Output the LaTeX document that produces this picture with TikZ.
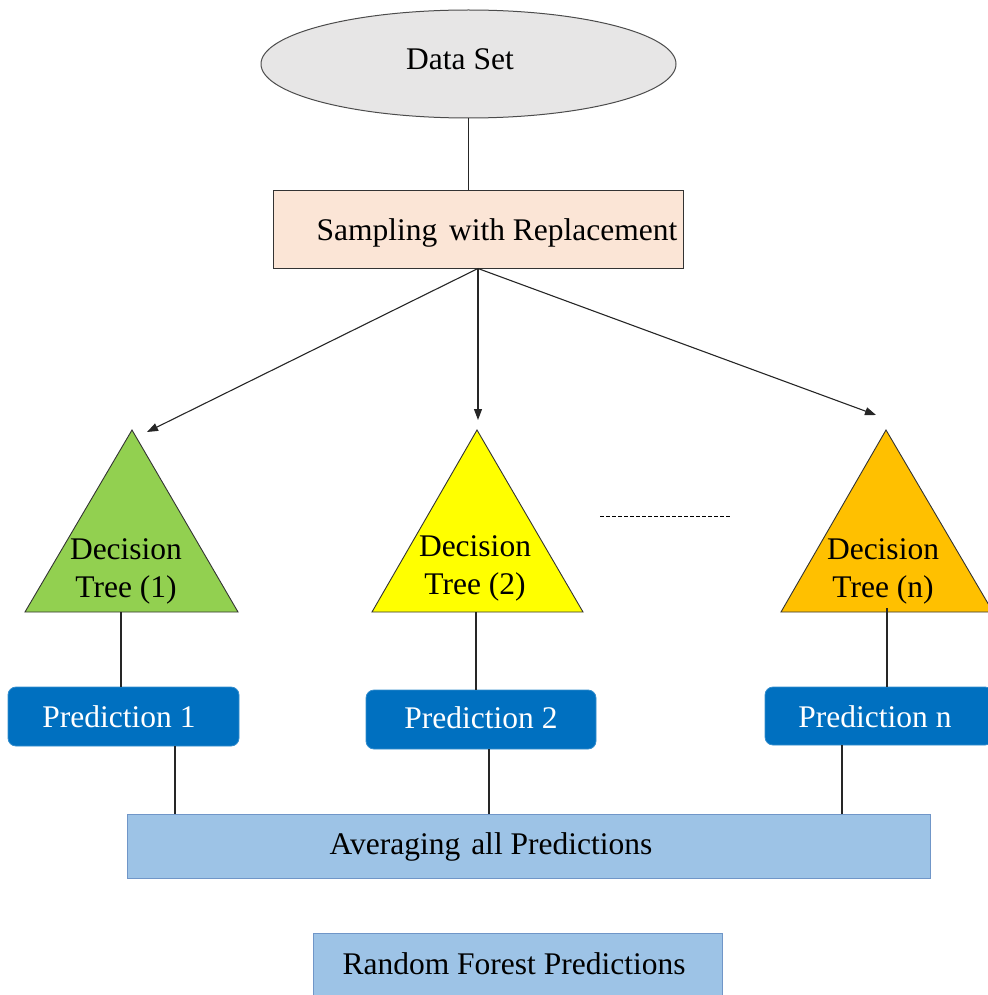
\documentclass[tikz,border=0pt]{standalone}
\usepackage{fontspec}
\setmainfont{Liberation Serif}
\usetikzlibrary{arrows.meta,shapes.geometric}
\definecolor{dsgray}{HTML}{E7E6E6}
\definecolor{peach}{HTML}{FBE5D6}
\definecolor{tgreen}{HTML}{92D050}
\definecolor{tyellow}{HTML}{FFFF00}
\definecolor{torange}{HTML}{FFC000}
\definecolor{pblue}{HTML}{0070C0}
\definecolor{lblue}{HTML}{9DC3E6}
\definecolor{lbluedraw}{HTML}{7096C8}
\begin{document}
\begin{tikzpicture}[x=1pt,y=-1pt,
  font=\fontsize{31.5}{38}\selectfont,
  conn/.style={line width=1.1pt, draw=black!85},
  arr/.style={conn, -{Triangle[length=11pt,width=8pt]}},
  tri/.style={draw=black!80, line width=0.9pt},
  pred/.style={draw=pblue!80!white, fill=pblue, rounded corners=8pt, line width=0.8pt, inner sep=0pt},
  predtext/.style={text=white},
  lbox/.style={draw=lbluedraw, fill=lblue, line width=1pt, inner sep=0pt}
]
\useasboundingbox (0,0) rectangle (987,995);

% Data set
\node[ellipse, draw=black!70, fill=dsgray, minimum width=415, minimum height=108, line width=1pt, inner sep=0pt] (ds) at (468.5,64) {};
\node (dsT) at (460,59) {Data Set};

% Sampling
\node[draw=black!80, fill=peach, line width=1pt, minimum width=410, minimum height=77] (samp) at (478,229.5) {};
\node (sampT) at (497,233) {Sampling\hspace{0.12em} with Replacement};
\draw[conn] (ds.south) -- (ds.south |- samp.north);

% Triangles
\draw[tri, fill=tgreen] (132,430) coordinate (t1apex) -- (238,612) -- (25,612) -- cycle;
\draw[tri, fill=tyellow] (477,430) coordinate (t2apex) -- (583,612) -- (372,612) -- cycle;
\draw[tri, fill=torange] (886,430) coordinate (t3apex) -- (993,612) -- (781,612) -- cycle;
\node[align=center] (t1T) at (126,571) {Decision\\Tree (1)};
\node[align=center] (t2T) at (475,568) {Decision\\Tree (2)};
\node[align=center] (t3T) at (883,571) {Decision\\Tree (n)};

% arrows
\coordinate (a1) at (147,432);
\coordinate (a2) at (478,420);
\coordinate (a3) at (876,415);
\draw[arr] (samp.south) -- (a1);
\draw[arr] (samp.south) -- (a2);
\draw[arr] (samp.south) -- (a3);

% dashed
\coordinate (d1) at (600,516);
\coordinate (d2) at (730,516);
\draw[line width=1pt, dash pattern=on 4pt off 2pt] (d1) -- (d2);

% predictions
\node[pred, minimum width=231, minimum height=59] (p1) at (123.5,716.5) {};
\node[pred, minimum width=230, minimum height=59] (p2) at (481,719.5) {};
\node[pred, minimum width=228, minimum height=58] (p3) at (879,716) {};
\node[predtext] (p1T) at (119,716.5) {Prediction 1};
\node[predtext] (p2T) at (481,718) {Prediction 2};
\node[predtext] (p3T) at (875,716.5) {Prediction n};

\coordinate (b1) at (121,612);
\coordinate (b2) at (476,612);
\coordinate (b3) at (887,608);
\draw[conn] (b1) -- (b1 |- p1.north);
\draw[conn] (b2) -- (b2 |- p2.north);
\draw[conn] (b3) -- (b3 |- p3.north);

% averaging
\node[lbox, minimum width=803, minimum height=64] (avg) at (528.5,846) {};
\node (avgT) at (491,847) {Averaging\hspace{0.1em} all Predictions};
\draw[conn] ([xshift=51.5pt]p1.south) -- ([xshift=51.5pt]p1.south |- avg.north);
\draw[conn] ([xshift=8pt]p2.south) -- ([xshift=8pt]p2.south |- avg.north);
\draw[conn] ([xshift=-37pt]p3.south) -- ([xshift=-37pt]p3.south |- avg.north);

% random forest
\node[lbox, minimum width=409, minimum height=68] (rf) at (517.5,967) {};
\node (rfT) at (514,964) {Random Forest Predictions};
\end{tikzpicture}
\end{document}
